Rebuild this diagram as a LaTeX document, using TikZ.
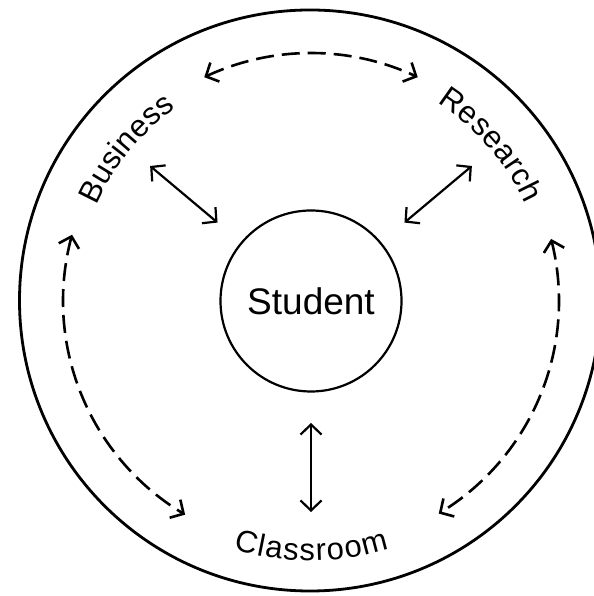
\documentclass[tikz,border=0pt]{standalone}
\usepackage{fontspec}
\setmainfont{Liberation Sans}
\usetikzlibrary{arrows.meta,decorations.text,bending}
\begin{document}
\begin{tikzpicture}[x=1bp,y=1bp,
  ring/.style={line width=2.8bp},
  hub/.style={circle, draw, line width=2.2bp, minimum size=181bp, inner sep=0pt, font=\fontsize{37bp}{44bp}\selectfont},
  link/.style={line width=2.2bp, {Straight Barb[length=10bp,width=21bp]}-{Straight Barb[length=10bp,width=21bp]}},
  loopline/.style={line width=2.6bp, dash pattern=on 18bp off 8bp, {Straight Barb[length=10bp,width=21bp]}-{Straight Barb[length=10bp,width=21bp]}}
]
\clip (0,0) rectangle (594,596);
\coordinate (O) at (310,295.5);
\draw[ring] (O) circle[radius=290.5bp];
\node[hub] (S) at (311,295) {Student};

% solid links
\coordinate (b1) at ([shift={(140:122bp)}]S.center);
\coordinate (b2) at ([shift={(140:210bp)}]S.center);
\coordinate (r1) at ([shift={(40:122bp)}]S.center);
\coordinate (r2) at ([shift={(40:210bp)}]S.center);
\coordinate (c1) at ([shift={(270:122bp)}]S.center);
\coordinate (c2) at ([shift={(270:211bp)}]S.center);
\draw[link] (b1) -- (b2);
\draw[link] (r1) -- (r2);
\draw[link] (c1) -- (c2);

% dashed arcs
\coordinate (tA) at ([shift={(115.5:248bp)}]S.center);
\coordinate (lA) at ([shift={(164.5:248bp)}]S.center);
\coordinate (rA) at ([shift={(14.5:248bp)}]S.center);
\draw[loopline] (tA) arc[start angle=115.5, end angle=64.5, radius=248bp];
\draw[loopline] (lA) arc[start angle=164.5, end angle=239.5, radius=248bp];
\draw[loopline] (rA) arc[start angle=14.5, end angle=-59, radius=248bp];

% curved labels
\coordinate (bL) at ([shift={(156:235bp)}]S.center);
\coordinate (rL) at ([shift={(57.5:235bp)}]S.center);
\coordinate (cL) at ([shift={(252.7:260bp)}]S.center);
\path[decorate, decoration={text along path, text align={fit to path},
  text={|\fontsize{31bp}{36bp}\selectfont|Business}}]
  (bL) arc[start angle=156, end angle=125, radius=235bp];
\path[decorate, decoration={text along path, text align={fit to path},
  text={|\fontsize{31bp}{36bp}\selectfont|Research}}]
  (rL) arc[start angle=57.5, end angle=24.5, radius=235bp];
\path[decorate, decoration={text along path, text align={fit to path},
  text={|\fontsize{31bp}{36bp}\selectfont|Classroom}}]
  (cL) arc[start angle=252.7, end angle=287.5, radius=260bp];
\end{tikzpicture}
\end{document}
